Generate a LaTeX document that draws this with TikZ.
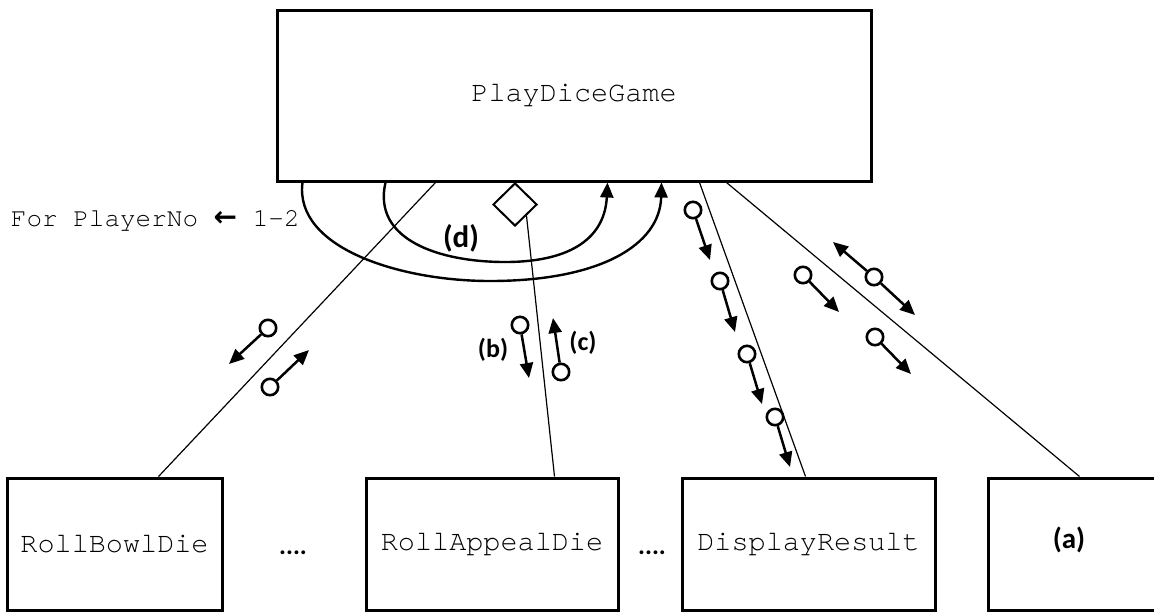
\documentclass[tikz,border=0pt]{standalone}
\usepackage{fontspec}
\newfontfamily\courier{texgyrecursor-regular}[Extension=.otf]
\newfontfamily\tagfont{Carlito}
\newfontfamily\symfont{DejaVu Sans}
\usepackage{tikz}
\usetikzlibrary{arrows.meta,shapes.geometric,positioning}

\begin{document}
\begin{tikzpicture}[x=0.5pt,y=-0.5pt,
        box/.style={draw,line width=1.5pt,inner sep=0pt,font=\courier\fontsize{14.25}{16}\selectfont},
        conn/.style={line width=0.6pt},
        iter/.style={line width=1.2pt,-{Triangle[length=7.5pt,width=6.5pt]}},
        flow/.style={line width=1.25pt,-{Triangle[length=7.5pt,width=6.5pt]}},
        dot/.style={draw,circle,line width=1.3pt,minimum size=8.2pt,inner sep=0pt},
        lbl/.style={font=\tagfont\bfseries\fontsize{13}{15}\selectfont}]
                \useasboundingbox (0,0) rectangle (1154,612);

                \node[box,minimum width=297pt,minimum height=85.5pt] (play) at (574,95.5) {PlayDiceGame};
                \node[box,minimum width=107.5pt,minimum height=66.25pt] (bowl) at (114.5,544.25) {RollBowlDie};
                \node[box,minimum width=126pt,minimum height=66.25pt] (appeal) at (492,544.25) {RollAppealDie};
                \node[box,minimum width=126.5pt,minimum height=66.25pt] (show) at (808.5,544.25) {DisplayResult};
                \node[box,minimum width=90pt,minimum height=66.25pt] (other) at (1078,544.25) {};
                \node[lbl,font=\tagfont\bfseries\fontsize{14.5}{16}\selectfont] (a) at (1069,540) {(a)};

                \node[lbl,anchor=base] (gap1) at (293,554) {....};
                \node[lbl,anchor=base] (gap2) at (652,554) {....};

                \node[draw,diamond,line width=1pt,minimum width=22pt,minimum height=21.5pt,inner sep=0pt] (sel) at (515,204.5) {};
                \node[anchor=east,inner sep=0pt,font=\courier\fontsize{13}{16}\selectfont] (range) at (300,221) {For PlayerNo {\symfont\bfseries\fontsize{14}{16}\selectfont ←} 1-2};

                \path (play.south west) ++(160,0) coordinate (pA) ++(264,0) coordinate (pC) ++(27,0) coordinate (pD);
                \path (play.south west) ++(27,0) coordinate (o1) ++(83,0) coordinate (i1) ++(222,0) coordinate (i2) ++(54,0) coordinate (o2);
                \path (bowl.north west) ++(153,0) coordinate (qA);
                \path (appeal.north west) ++(190,0) coordinate (qB);
                \path (show.north west) ++(125,0) coordinate (qC);
                \path (other.north west) ++(93,0) coordinate (qD);

                \draw[conn] (pA) -- (qA);
                \draw[conn] (sel.south east) -- (qB);
                \draw[conn] (pC) -- (qC);
                \draw[conn] (pD) -- (qD);

                % loops
                \draw[iter] (o1) .. controls (294,248) and (400,281) .. (490,281) .. controls (600,281) and (660,245) .. (o2);
                \draw[iter] (i1) .. controls (372,240) and (440,262) .. (505,262) .. controls (575,262) and (605,235) .. (i2);
                \node[lbl,font=\tagfont\bfseries\fontsize{15.5}{17}\selectfont] (td) at (461,238) {(d)};

                % couples
                \foreach \n/\c/\t in {k1/{268,328}/{229,364}, k2/{270,387}/{309,350},
                        kb/{520,325}/{529,378}, kc/{561,372}/{553,318},
                        s1/{693,210}/{710,260}, s2/{720,281}/{735,332}, s3/{747,354}/{762,404}, s4/{775,417}/{790,467},
                        r1/{803,275}/{839,312}, r2/{874,277}/{915,315}, r3/{875,337}/{911,374}}
                {
                    \node[dot] (\n) at (\c) {};
                    \coordinate (\n t) at (\t);
                    \draw[flow] (\n) -- (\n t);
                }
                \coordinate (r2u) at (833,242);
                \draw[flow] (r2) -- (r2u);

                \node[lbl] (tb) at (493,350) {(b)};
                \node[lbl] (tc) at (583,343) {(c)};
            \end{tikzpicture}
\end{document}
